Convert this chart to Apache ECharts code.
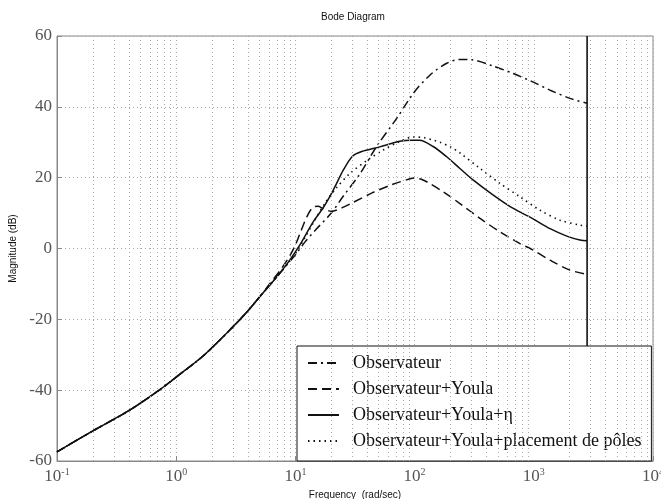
<!DOCTYPE html>
<html><head><meta charset="utf-8">
<script src="https://cdn.jsdelivr.net/npm/echarts@6/dist/echarts.min.js"></script>
<style>html,body{margin:0;padding:0;background:#fff}#c{width:661px;height:499px}</style>
</head><body><div id="c"></div>
<script>
// ---- data (frequency in rad/sec, magnitude in dB) ----
const seriesNames = ['Observateur', 'Observateur+Youla', 'Observateur+Youla+\u03b7', 'Observateur+Youla+placement de p\u00f4les'];

const obsFreq = [0.1,0.2,0.4,0.7,1,1.7,2.8,3.9,5,6,7.4,9,10,12,15,20,25,35,48,71,98,135,186,240,300,457,673,970,1370,2010,2800];
const obsMag  = [-57.4,-51.5,-45.8,-40.3,-36.3,-30.2,-23.1,-18,-13.7,-10.6,-7.0,-3.6,-1.8,1.8,5.5,10,14.6,21.2,28.8,36.8,43.9,49.0,52.3,53.4,53.3,51.5,49.4,47.1,44.7,42.4,41.0];

const youlaFreq = [0.1,0.2,0.4,0.7,1,1.7,2.8,3.9,5,6,7.4,9,10,11,12.5,14,15.5,17,20,25,30,44,64,90,100,115,130,174,240,354,520,765,970,1370,2010,2800];
const youlaMag  = [-57.4,-51.5,-45.8,-40.3,-36.3,-30.2,-23.1,-18,-13.7,-10.2,-6.3,-2.0,1.0,4.5,9.0,11.6,11.9,11.3,10.5,11.6,12.9,15.7,18.0,19.6,19.9,19.5,18.6,16.0,12.7,8.5,4.7,1.4,-0.3,-3.3,-6.1,-7.3];

const etaFreq = [0.1,0.2,0.4,0.7,1,1.7,2.8,3.9,5,6,7.4,9,10.9,14.1,17.1,20.8,25.2,30,36,51,75,95,110,143,186,240,311,457,673,970,1370,1890,2440,2800];
const etaMag  = [-57.4,-51.5,-45.8,-40.3,-36.3,-30.2,-23.1,-18,-13.7,-10.6,-7.0,-3.2,1.0,7.5,11.5,16.5,22.1,26.0,27.4,28.7,30.3,30.6,30.6,28.8,25.9,22.6,19.3,15.1,11.3,8.5,5.6,3.5,2.4,2.2];

const polesFreq = [0.1,0.2,0.4,0.7,1,1.7,2.8,3.9,5,6,7.4,9,10,12,14,17.7,22.2,28.7,39.6,54.6,75,97.5,120,143,163,200,240,354,520,765,1130,1660,2440,2800];
const polesMag  = [-57.4,-51.5,-45.8,-40.3,-36.3,-30.2,-23.1,-18,-13.7,-10.6,-7.0,-3.4,-1.5,3.0,7.0,12.8,17.2,21.2,24.8,27.8,30.2,31.5,31.3,30.6,30.0,28.7,27.0,22.6,18.4,14.6,10.8,8.0,6.6,6.3];

const nyquistFreq = 2800;
const yTicks = [-60,-40,-20,0,20,40,60];
const xDecades = [0.1,1,10,100,1000,10000];
const minorMult = [2,3,4,5,6,7,8,9];

// ---- build ----
const zip = (f, m) => f.map((v, i) => [v, m[i]]);
const minorX = [];
xDecades.slice(0, -1).forEach(d => minorMult.forEach(k => minorX.push(+(d * k).toPrecision(6))));

const serif = "'Liberation Serif','DejaVu Serif',serif";
const sans = "'Liberation Sans',Arial,sans-serif";
const black = '#111';

const chart = echarts.init(document.getElementById('c'), null, {renderer: 'canvas'});
chart.setOption({
  animation: false,
  backgroundColor: '#fff',
  title: {text: 'Bode Diagram', left: 316, top: 7,
    textStyle: {fontFamily: sans, fontSize: 10, fontWeight: 'normal', color: '#111'}},
  grid: {left: 57, right: 8, top: 36, bottom: 38, show: true, borderColor: '#888', borderWidth: 1,
    containLabel: false, outerBoundsMode: 'none'},
  xAxis: {
    type: 'log', logBase: 10, min: xDecades[0], max: xDecades[xDecades.length - 1],
    name: 'Frequency  (rad/sec)', nameLocation: 'middle', nameGap: 19,
    nameTextStyle: {fontFamily: sans, fontSize: 10, color: '#111'},
    axisLine: {onZero: false, lineStyle: {color: '#888'}},
    axisTick: {inside: true, length: 5, lineStyle: {color: '#888'}},
    splitLine: {show: true, lineStyle: {color: '#aaa', type: [1, 3]}},
    axisLabel: {
      margin: 6, hideOverlap: false,
      formatter: v => '{b|10}{s|' + Math.round(Math.log10(v)) + '}',
      rich: {
        b: {fontFamily: serif, fontSize: 17, color: '#555'},
        s: {fontFamily: serif, fontSize: 10, color: '#555', padding: [0, 0, 10, 0]}
      }
    }
  },
  yAxis: {
    type: 'value', min: yTicks[0], max: yTicks[yTicks.length - 1], interval: 20,
    name: 'Magnitude (dB)', nameLocation: 'middle', nameGap: 36,
    nameTextStyle: {fontFamily: sans, fontSize: 10, color: '#111'},
    axisLine: {lineStyle: {color: '#888'}},
    axisTick: {inside: true, length: 5, lineStyle: {color: '#888'}},
    splitLine: {show: true, lineStyle: {color: '#aaa', type: [1, 3]}},
    axisLabel: {margin: 5, fontFamily: serif, fontSize: 17, color: '#555'}
  },
  legend: {
    data: seriesNames, orient: 'vertical', left: 297, top: 346,
    itemWidth: 31, itemHeight: 14, itemGap: 8,
    padding: [8, 10, 11, 10],
    backgroundColor: '#fff', borderColor: '#111', borderWidth: 1, borderRadius: 0,
    itemStyle: {color: 'transparent', borderWidth: 0, opacity: 0},
    textStyle: {fontFamily: serif, fontSize: 18, color: '#111', padding: [0, 0, 0, 9]}
  },
  series: [
    {name: 'grid-minor', type: 'line', data: [], z: 1, silent: true,
      markLine: {silent: true, symbol: 'none', label: {show: false},
        lineStyle: {color: '#aaa', type: [1, 3], width: 1},
        data: minorX.map(v => ({xAxis: v}))}},
    {name: 'nyquist', type: 'line', data: [[nyquistFreq, yTicks[0]], [nyquistFreq, yTicks[yTicks.length - 1]]],
      symbol: 'none', lineStyle: {color: black, width: 1.6}, z: 2, silent: true},
    {name: seriesNames[0], type: 'line', data: zip(obsFreq, obsMag), symbol: 'none', smooth: 0.3,
      lineStyle: {color: black, width: 1.5, type: [9, 4, 2, 4]}, itemStyle: {color: black}},
    {name: seriesNames[1], type: 'line', data: zip(youlaFreq, youlaMag), symbol: 'none', smooth: 0.3,
      lineStyle: {color: black, width: 1.5, type: [9, 5]}, itemStyle: {color: black}},
    {name: seriesNames[2], type: 'line', data: zip(etaFreq, etaMag), symbol: 'none', smooth: 0.3,
      lineStyle: {color: black, width: 1.5, type: 'solid'}, itemStyle: {color: black}},
    {name: seriesNames[3], type: 'line', data: zip(polesFreq, polesMag), symbol: 'none', smooth: 0.3,
      lineStyle: {color: black, width: 1.6, type: [1.5, 4]}, itemStyle: {color: black}}
  ]
});
</script>
</body></html>
